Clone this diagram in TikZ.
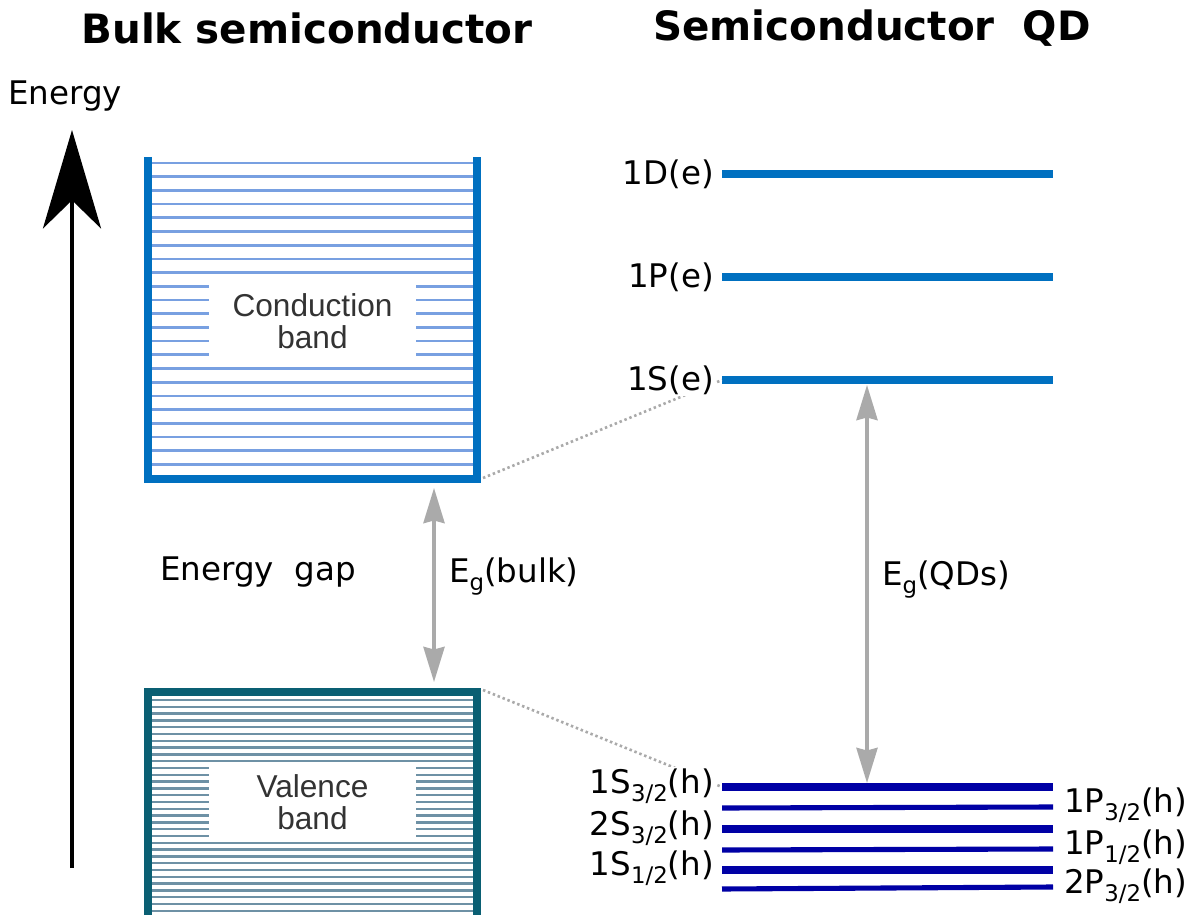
\documentclass[tikz,border=0pt]{standalone}
\usepackage{fontspec}
\setmainfont{DejaVu Sans}
\newfontfamily\bandfont{Liberation Sans}
\usetikzlibrary{arrows.meta}
\definecolor{bandblue}{RGB}{0,112,192}
\definecolor{hatchblue}{RGB}{120,160,225}
\definecolor{valteal}{RGB}{10,95,115}
\definecolor{hatchteal}{RGB}{110,145,165}
\definecolor{holenavy}{RGB}{0,0,165}
\definecolor{gapgrey}{RGB}{170,170,170}
\newcommand{\lsub}[1]{\raisebox{-0.45ex}{\fontsize{13}{13}\selectfont #1}}

\tikzset{
  lbl/.style={font=\fontsize{18.5}{22}\selectfont, inner sep=1pt, fill=white},
  title/.style={font=\fontsize{23}{27}\selectfont\bfseries},
  bandname/.style={fill=white, minimum width=4.14cm, align=center, text=black!80,
    font=\bandfont\fontsize{18}{18.5}\selectfont},
  elevel/.style={draw=bandblue, line width=4pt},
  hlevel/.style={draw=holenavy, line width=4pt},
  hthin/.style={draw=holenavy, line width=2.9pt},
  gaparrow/.style={draw=gapgrey, line width=1.9pt,
    {Stealth[length=20pt,width=12pt,inset=1.5pt]}-{Stealth[length=20pt,width=12pt,inset=1.5pt]}},
  dotlink/.style={draw=gapgrey, line width=1.5pt, dash pattern=on 1.4pt off 1.6pt}
}

\begin{document}
\begin{tikzpicture}[x=0.02cm, y=-0.02cm]
\useasboundingbox (0,0) rectangle (1200,915);

% ================= TITLES =================
\node[title] (tbulk) at (307,28) {Bulk semiconductor};
\node[title] (tqd) at (872,28) {Semiconductor\ \ QD};

% ================= ENERGY AXIS =================
\node[lbl] (energy) at (65,96) {Energy};
\coordinate (eBot) at (72,868);
\coordinate (eTop) at (72,130);
\draw[line width=2.8pt, -{Stealth[length=56pt,width=33pt,inset=16pt]}] (eBot) -- (eTop);

% ================= CONDUCTION BAND =================
\foreach \y in {163,176.7,...,465}
  \draw[hatchblue, line width=1.5pt] (152,\y) -- (473,\y);
\draw[bandblue, line width=4pt] (148,157) |- (477,479) -- (477,157);
\node[bandname, minimum height=1.64cm] (cband) at (312.5,321) {Conduction\\band};
\coordinate (cbR) at (483,478);
\coordinate (cbGap) at (434,488);

% ================= VALENCE BAND =================
\foreach \y in {700,706.8,...,914}
  \draw[hatchteal, line width=1.4pt] (152,\y) -- (473,\y);
\draw[valteal, line width=4.5pt] (148,920) |- (477,692) -- (477,920);
\node[bandname, minimum height=1.6cm] (vband) at (312.5,802) {Valence\\band};
\coordinate (vbR) at (483,690);
\coordinate (vbGap) at (434,682);

% ================= BULK GAP =================
\node[lbl] (gaptext) at (258,572) {Energy\ \ gap};
\draw[gaparrow] (cbGap) -- (vbGap);
\node[lbl, anchor=west] (egbulk) at (447,577) {E\lsub{g}(bulk)};

% ================= QD ELECTRON LEVELS =================
\coordinate (eD) at (722,174);
\coordinate (eP) at (722,277);
\coordinate (eS) at (722,380);
\draw[elevel] (eD) -- (1053,174);
\draw[elevel] (eP) -- (1053,277);
\draw[elevel] (eS) -- (1053,380);

% ================= QD HOLE LEVELS =================
\coordinate (hS) at (722,787);
\draw[hlevel] (hS) -- (1053,787);
\draw[hthin] (722,808) -- (1053,807);
\draw[hlevel] (722,829) -- (1053,829);
\draw[hthin] (722,850) -- (1053,849);
\draw[hlevel] (722,870) -- (1053,870);
\draw[hthin] (722,889) -- (1053,887);

% ================= LINKS AND QD GAP =================
\draw[dotlink] (cbR) -- (eS);
\draw[dotlink] (vbR) -- (hS);
\coordinate (qdTop) at (867,385);
\coordinate (qdBot) at (867,783);
\draw[gaparrow] (qdTop) -- (qdBot);
\node[lbl, anchor=west] (egqd) at (880,580) {E\lsub{g}(QDs)};

% ================= LEVEL LABELS =================
\node[lbl, anchor=east] (lD) at (716,174) {1D(e)};
\node[lbl, anchor=east] (lP) at (716,277) {1P(e)};
\node[lbl, anchor=east] (lS) at (716,380) {1S(e)};
\node[lbl, anchor=east] (lh1) at (716,786) {1S\lsub{3/2}(h)};
\node[lbl, anchor=east] (lh2) at (716,828) {2S\lsub{3/2}(h)};
\node[lbl, anchor=east] (lh3) at (716,868) {1S\lsub{1/2}(h)};
\node[lbl, anchor=west] (rh1) at (1062,805) {1P\lsub{3/2}(h)};
\node[lbl, anchor=west] (rh2) at (1062,847) {1P\lsub{1/2}(h)};
\node[lbl, anchor=west] (rh3) at (1062,886) {2P\lsub{3/2}(h)};

\end{tikzpicture}
\end{document}
